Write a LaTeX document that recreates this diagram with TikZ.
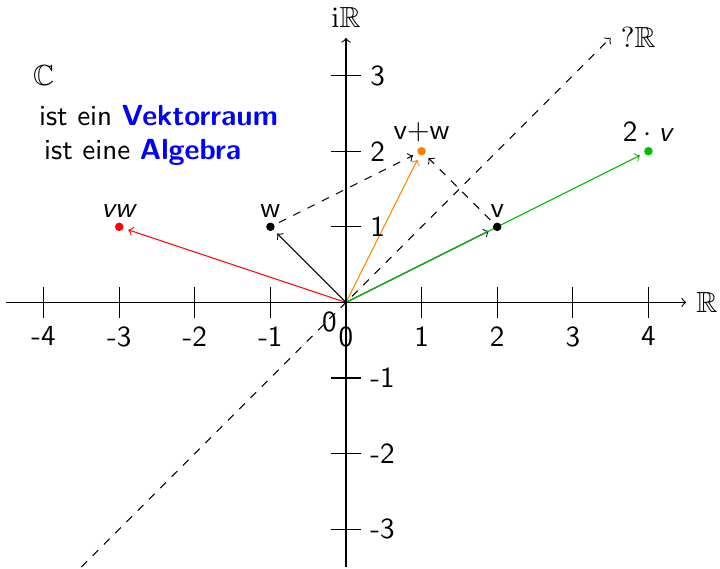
\documentclass[tikz,border=0pt,11pt]{standalone}
\usepackage{amssymb}
\usetikzlibrary{backgrounds}
\definecolor{vgreen}{RGB}{0,190,0}
\definecolor{vorange}{RGB}{255,128,0}
\begin{document}
\begin{tikzpicture}[font=\sffamily,
  dot/.style={circle,fill,inner sep=0pt,minimum size=3.2pt,outer sep=2pt},
  vec/.style={->},
  dvec/.style={->,dashed},
  ticklab/.style={inner sep=0.3em}]
\useasboundingbox (-4.577,-3.514) rectangle (4.947,4.0);
\coordinate (O) at (0,0);
% axes
\coordinate (xl) at (-4.5,0);
\coordinate (xr) at (4.5,0);
\coordinate (yb) at (0,-3.5);
\coordinate (yt) at (0,3.5);
\draw[vec] (xl) -- (xr) node[right] (xlab) {$\mathbb{R}$};
\draw[vec] (yb) -- (yt) node[above] (ylab) {$\mathrm{i}\mathbb{R}$};
\foreach \x [count=\i] in {-4,...,4}
  \draw (\x,0.2) -- (\x,-0.2) node[below,ticklab] (xt\i) {\x};
\foreach \y [count=\i] in {-3,-2,-1,1,2,3}
  \draw (-0.2,\y) -- (0.2,\y) node[right,ticklab] (yt\i) {\y};
\node[below left,inner sep=0.3em] (zl) at (O) {0};
% diagonal
\coordinate (d1) at (-3.5,-3.5);
\coordinate (d2) at (3.5,3.5);
\draw[dvec] (d1) -- (d2) node[right] (dlab) {$?\mathbb{R}$};
% points
\node[dot] (w) at (-1,1) {};
\node[dot] (v) at (2,1) {};
\node[dot,vorange] (vpw) at (1,2) {};
\node[dot,vgreen] (tv) at (4,2) {};
\node[dot,red] (vw) at (-3,1) {};
\node[above,inner sep=0.3em] (lw) at (-1,1) {w};
\node[above,inner sep=0.3em] (lv) at (2,1) {v};
\node[above,inner sep=0.3em] (lvpw) at (1,2) {v+w};
\node[above,inner sep=0.3em] (ltv) at (4,2) {2${}\cdot{}$\textit{v}};
\node[above,inner sep=0.3em] (lvw) at (-3,1) {\textit{vw}};
% vectors
\begin{scope}[on background layer]
\draw[vec,red] (O) -- (vw);
\draw[vec] (O) -- (w);
\draw[vec,vorange] (O) -- (vpw);
\draw[vec] (O) -- (v);
\draw[vec,vgreen] (O) -- (tv);
\draw[dvec] (w) -- (vpw);
\draw[dvec] (v) -- (vpw);
\end{scope}
% texts
\node (C) at (-4,3) {$\mathbb{C}$};
\node (t1) at (-2.48,2.47) {ist ein \textbf{\color{blue}Vektorraum}};
\node (t2) at (-2.69,1.98) {ist eine \textbf{\color{blue}Algebra}};
\end{tikzpicture}
\end{document}
